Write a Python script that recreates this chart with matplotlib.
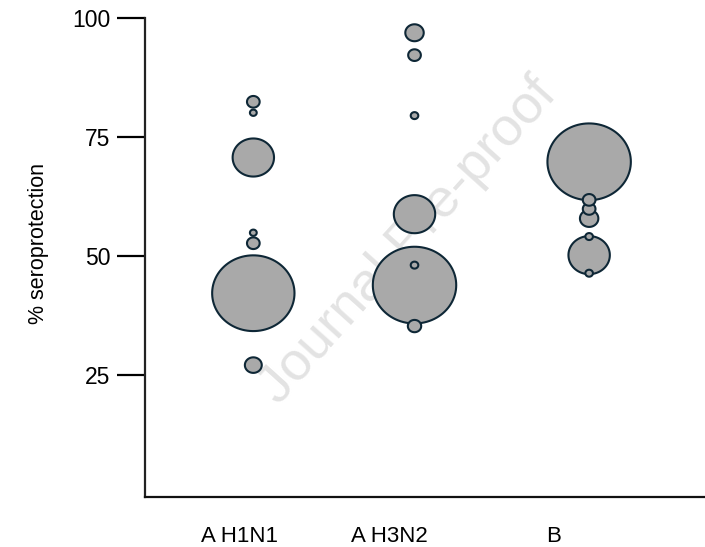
import matplotlib
matplotlib.use('Agg')

import numpy as np
import matplotlib.pyplot as plt
from matplotlib.path import Path

# data
strains = ["A H1N1", "A H3N2", "B"]

h1n1_pct = [82.4, 80.1, 70.7, 54.9, 52.7, 42.2, 27.1]
h1n1_n   = [45,   13,   480,  13,   45,   1900, 80]

h3n2_pct = [96.9, 92.2, 79.5, 58.8, 48.1, 43.9, 35.3]
h3n2_n   = [95,   45,   16,   480,  16,   1950, 50]

b_pct    = [69.8, 61.8, 59.9, 57.9, 54.1, 50.2, 46.4]
b_n      = [1950, 45,   45,   95,   16,   480,  16]

yticks = [25, 50, 75, 100]

plt.rcParams['font.family'] = ['Liberation Sans', 'DejaVu Sans']

# slightly wide ellipse marker, as in the reference
t = np.linspace(0, 2 * np.pi, 100)
ellipse = Path(np.column_stack([np.cos(t), 0.92 * np.sin(t)]), closed=True)

fig = plt.figure(figsize=(7.05, 5.47), dpi=100)
ax = fig.add_axes([0.2057, 0.0914, 0.7943, 0.8757])

groups = [(h1n1_pct, h1n1_n), (h3n2_pct, h3n2_n), (b_pct, b_n)]
x_pos = [0, 0.96, 2.0]
for xi, (pct, n) in zip(x_pos, groups):
    order = np.argsort(n)[::-1]      # big bubbles first, small ones on top
    pct = np.asarray(pct)[order]
    n = np.asarray(n)[order]
    ax.scatter(np.full(len(pct), xi), pct, s=n * 1.85, marker=ellipse,
               facecolor="#a9a9a9", edgecolor="#0e2736", linewidth=1.5, zorder=3)

ax.text(0.47, 0.535, "Journal Pre-proof", transform=ax.transAxes, rotation=48,
        fontsize=39, color="#e3e3e3", ha="center", va="center", zorder=1)

ax.set_xlim(-0.645, 2.69)
ax.set_ylim(-0.6, 100)
ax.set_yticks(yticks)
ax.tick_params(axis="y", length=20, width=1.6, labelsize=16.5, pad=5, color="black")
ax.set_xticks(np.array(x_pos) - np.array([0.08, 0.15, 0.21]))
ax.set_xticklabels(strains, fontsize=16)
ax.tick_params(axis="x", length=0, pad=21)

for side in ["top", "right"]:
    ax.spines[side].set_visible(False)
ax.spines["left"].set_linewidth(1.6)
ax.spines["bottom"].set_linewidth(1.6)
ax.spines["left"].set_color("#222222")
ax.spines["bottom"].set_color("#111111")

ax.set_ylabel("% seroprotection", fontsize=15.5)
ax.yaxis.set_label_coords(-0.172, 0.53)

plt.savefig("out.png", dpi=100)
plt.close("all")
